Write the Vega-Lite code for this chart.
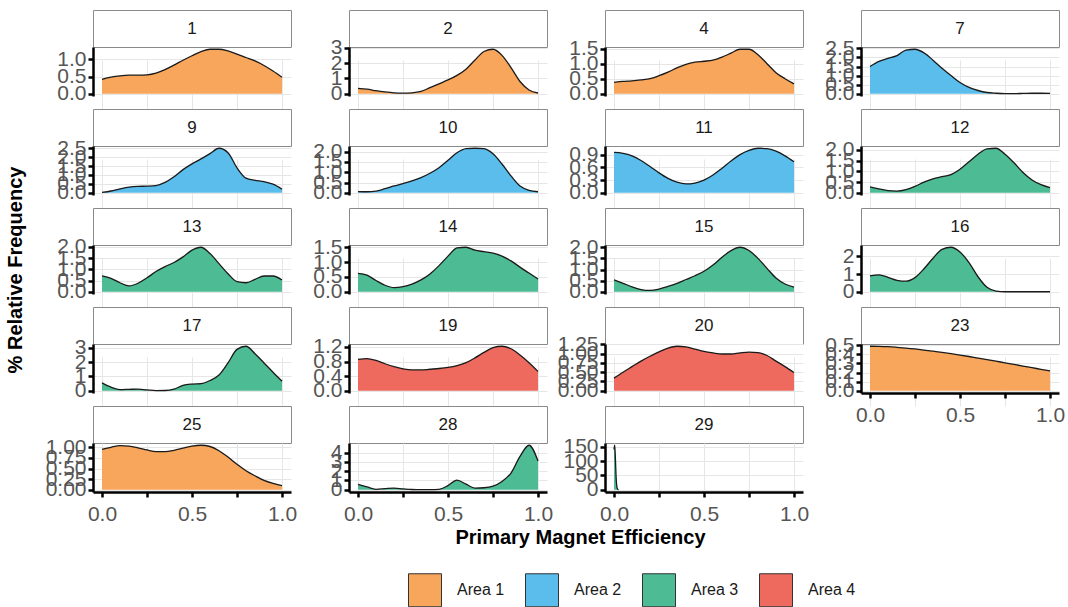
{
"$schema":"https://vega.github.io/schema/vega-lite/v6.json",
"padding":{"left":5,"top":9,"right":0,"bottom":0},
"background":"white",
"datasets":{
"panels":[{"panel":"1","area":"Area 1"},{"panel":"2","area":"Area 1"},{"panel":"4","area":"Area 1"},{"panel":"7","area":"Area 2"},{"panel":"9","area":"Area 2"},{"panel":"10","area":"Area 2"},{"panel":"11","area":"Area 2"},{"panel":"12","area":"Area 3"},{"panel":"13","area":"Area 3"},{"panel":"14","area":"Area 3"},{"panel":"15","area":"Area 3"},{"panel":"16","area":"Area 3"},{"panel":"17","area":"Area 3"},{"panel":"19","area":"Area 4"},{"panel":"20","area":"Area 4"},{"panel":"23","area":"Area 1"},{"panel":"25","area":"Area 1"},{"panel":"28","area":"Area 3"},{"panel":"29","area":"Area 3"}],
"dens":[
{"panel":"1","x":0,"y":0.42},{"panel":"1","x":0.05,"y":0.48},{"panel":"1","x":0.1,"y":0.52},{"panel":"1","x":0.15,"y":0.54},{"panel":"1","x":0.2,"y":0.54},{"panel":"1","x":0.25,"y":0.55},{"panel":"1","x":0.3,"y":0.6},{"panel":"1","x":0.35,"y":0.7},{"panel":"1","x":0.4,"y":0.83},{"panel":"1","x":0.45,"y":0.97},{"panel":"1","x":0.5,"y":1.1},{"panel":"1","x":0.55,"y":1.22},{"panel":"1","x":0.6,"y":1.29},{"panel":"1","x":0.65,"y":1.29},{"panel":"1","x":0.7,"y":1.24},{"panel":"1","x":0.75,"y":1.15},{"panel":"1","x":0.8,"y":1.05},{"panel":"1","x":0.85,"y":0.95},{"panel":"1","x":0.9,"y":0.82},{"panel":"1","x":0.95,"y":0.66},{"panel":"1","x":1,"y":0.48},
{"panel":"2","x":0,"y":0.35},{"panel":"2","x":0.05,"y":0.3},{"panel":"2","x":0.1,"y":0.2},{"panel":"2","x":0.15,"y":0.12},{"panel":"2","x":0.2,"y":0.06},{"panel":"2","x":0.25,"y":0.04},{"panel":"2","x":0.3,"y":0.06},{"panel":"2","x":0.35,"y":0.15},{"panel":"2","x":0.4,"y":0.4},{"panel":"2","x":0.45,"y":0.65},{"panel":"2","x":0.5,"y":0.9},{"panel":"2","x":0.55,"y":1.2},{"panel":"2","x":0.6,"y":1.6},{"panel":"2","x":0.65,"y":2.2},{"panel":"2","x":0.7,"y":2.75},{"panel":"2","x":0.75,"y":2.9},{"panel":"2","x":0.8,"y":2.5},{"panel":"2","x":0.85,"y":1.7},{"panel":"2","x":0.9,"y":0.8},{"panel":"2","x":0.95,"y":0.25},{"panel":"2","x":1,"y":0.05},
{"panel":"4","x":0,"y":0.38},{"panel":"4","x":0.05,"y":0.41},{"panel":"4","x":0.1,"y":0.43},{"panel":"4","x":0.15,"y":0.46},{"panel":"4","x":0.2,"y":0.5},{"panel":"4","x":0.25,"y":0.6},{"panel":"4","x":0.3,"y":0.72},{"panel":"4","x":0.35,"y":0.86},{"panel":"4","x":0.4,"y":0.98},{"panel":"4","x":0.45,"y":1.05},{"panel":"4","x":0.5,"y":1.08},{"panel":"4","x":0.55,"y":1.12},{"panel":"4","x":0.6,"y":1.22},{"panel":"4","x":0.65,"y":1.35},{"panel":"4","x":0.7,"y":1.48},{"panel":"4","x":0.75,"y":1.48},{"panel":"4","x":0.8,"y":1.3},{"panel":"4","x":0.85,"y":1.0},{"panel":"4","x":0.9,"y":0.7},{"panel":"4","x":0.95,"y":0.5},{"panel":"4","x":1,"y":0.33},
{"panel":"7","x":0,"y":1.5},{"panel":"7","x":0.05,"y":1.78},{"panel":"7","x":0.1,"y":1.95},{"panel":"7","x":0.15,"y":2.1},{"panel":"7","x":0.2,"y":2.4},{"panel":"7","x":0.25,"y":2.45},{"panel":"7","x":0.3,"y":2.25},{"panel":"7","x":0.35,"y":1.85},{"panel":"7","x":0.4,"y":1.4},{"panel":"7","x":0.45,"y":1.0},{"panel":"7","x":0.5,"y":0.62},{"panel":"7","x":0.55,"y":0.35},{"panel":"7","x":0.6,"y":0.18},{"panel":"7","x":0.65,"y":0.07},{"panel":"7","x":0.7,"y":0.03},{"panel":"7","x":0.75,"y":0.01},{"panel":"7","x":0.8,"y":0.01},{"panel":"7","x":0.85,"y":0.02},{"panel":"7","x":0.9,"y":0.03},{"panel":"7","x":0.95,"y":0.03},{"panel":"7","x":1,"y":0.02},
{"panel":"9","x":0,"y":0.02},{"panel":"9","x":0.05,"y":0.1},{"panel":"9","x":0.1,"y":0.22},{"panel":"9","x":0.15,"y":0.32},{"panel":"9","x":0.2,"y":0.36},{"panel":"9","x":0.25,"y":0.37},{"panel":"9","x":0.3,"y":0.4},{"panel":"9","x":0.35,"y":0.58},{"panel":"9","x":0.4,"y":0.9},{"panel":"9","x":0.45,"y":1.3},{"panel":"9","x":0.5,"y":1.62},{"panel":"9","x":0.55,"y":1.9},{"panel":"9","x":0.6,"y":2.2},{"panel":"9","x":0.65,"y":2.5},{"panel":"9","x":0.7,"y":2.25},{"panel":"9","x":0.75,"y":1.4},{"panel":"9","x":0.8,"y":0.82},{"panel":"9","x":0.85,"y":0.7},{"panel":"9","x":0.9,"y":0.62},{"panel":"9","x":0.95,"y":0.48},{"panel":"9","x":1,"y":0.2},
{"panel":"10","x":0,"y":0.06},{"panel":"10","x":0.05,"y":0.05},{"panel":"10","x":0.1,"y":0.08},{"panel":"10","x":0.15,"y":0.2},{"panel":"10","x":0.2,"y":0.33},{"panel":"10","x":0.25,"y":0.45},{"panel":"10","x":0.3,"y":0.58},{"panel":"10","x":0.35,"y":0.74},{"panel":"10","x":0.4,"y":0.95},{"panel":"10","x":0.45,"y":1.22},{"panel":"10","x":0.5,"y":1.58},{"panel":"10","x":0.55,"y":1.95},{"panel":"10","x":0.6,"y":2.15},{"panel":"10","x":0.65,"y":2.17},{"panel":"10","x":0.7,"y":2.15},{"panel":"10","x":0.75,"y":1.9},{"panel":"10","x":0.8,"y":1.4},{"panel":"10","x":0.85,"y":0.82},{"panel":"10","x":0.9,"y":0.33},{"panel":"10","x":0.95,"y":0.12},{"panel":"10","x":1,"y":0.05},
{"panel":"11","x":0,"y":0.95},{"panel":"11","x":0.05,"y":0.93},{"panel":"11","x":0.1,"y":0.87},{"panel":"11","x":0.15,"y":0.76},{"panel":"11","x":0.2,"y":0.62},{"panel":"11","x":0.25,"y":0.47},{"panel":"11","x":0.3,"y":0.34},{"panel":"11","x":0.35,"y":0.25},{"panel":"11","x":0.4,"y":0.21},{"panel":"11","x":0.45,"y":0.23},{"panel":"11","x":0.5,"y":0.3},{"panel":"11","x":0.55,"y":0.42},{"panel":"11","x":0.6,"y":0.58},{"panel":"11","x":0.65,"y":0.75},{"panel":"11","x":0.7,"y":0.9},{"panel":"11","x":0.75,"y":1.0},{"panel":"11","x":0.8,"y":1.05},{"panel":"11","x":0.85,"y":1.04},{"panel":"11","x":0.9,"y":0.98},{"panel":"11","x":0.95,"y":0.87},{"panel":"11","x":1,"y":0.73},
{"panel":"12","x":0,"y":0.27},{"panel":"12","x":0.05,"y":0.18},{"panel":"12","x":0.1,"y":0.1},{"panel":"12","x":0.15,"y":0.08},{"panel":"12","x":0.2,"y":0.15},{"panel":"12","x":0.25,"y":0.3},{"panel":"12","x":0.3,"y":0.5},{"panel":"12","x":0.35,"y":0.65},{"panel":"12","x":0.4,"y":0.75},{"panel":"12","x":0.45,"y":0.85},{"panel":"12","x":0.5,"y":1.1},{"panel":"12","x":0.55,"y":1.45},{"panel":"12","x":0.6,"y":1.8},{"panel":"12","x":0.65,"y":2.05},{"panel":"12","x":0.7,"y":2.08},{"panel":"12","x":0.75,"y":1.8},{"panel":"12","x":0.8,"y":1.4},{"panel":"12","x":0.85,"y":0.95},{"panel":"12","x":0.9,"y":0.6},{"panel":"12","x":0.95,"y":0.38},{"panel":"12","x":1,"y":0.24},
{"panel":"13","x":0,"y":0.71},{"panel":"13","x":0.05,"y":0.6},{"panel":"13","x":0.1,"y":0.4},{"panel":"13","x":0.15,"y":0.26},{"panel":"13","x":0.2,"y":0.38},{"panel":"13","x":0.25,"y":0.62},{"panel":"13","x":0.3,"y":0.9},{"panel":"13","x":0.35,"y":1.12},{"panel":"13","x":0.4,"y":1.3},{"panel":"13","x":0.45,"y":1.55},{"panel":"13","x":0.5,"y":1.85},{"panel":"13","x":0.55,"y":1.98},{"panel":"13","x":0.6,"y":1.7},{"panel":"13","x":0.65,"y":1.25},{"panel":"13","x":0.7,"y":0.8},{"panel":"13","x":0.75,"y":0.45},{"panel":"13","x":0.8,"y":0.4},{"panel":"13","x":0.85,"y":0.55},{"panel":"13","x":0.9,"y":0.7},{"panel":"13","x":0.95,"y":0.7},{"panel":"13","x":1,"y":0.52},
{"panel":"14","x":0,"y":0.62},{"panel":"14","x":0.05,"y":0.56},{"panel":"14","x":0.1,"y":0.38},{"panel":"14","x":0.15,"y":0.22},{"panel":"14","x":0.2,"y":0.14},{"panel":"14","x":0.25,"y":0.17},{"panel":"14","x":0.3,"y":0.26},{"panel":"14","x":0.35,"y":0.4},{"panel":"14","x":0.4,"y":0.6},{"panel":"14","x":0.45,"y":0.88},{"panel":"14","x":0.5,"y":1.2},{"panel":"14","x":0.55,"y":1.48},{"panel":"14","x":0.6,"y":1.5},{"panel":"14","x":0.65,"y":1.4},{"panel":"14","x":0.7,"y":1.35},{"panel":"14","x":0.75,"y":1.3},{"panel":"14","x":0.8,"y":1.2},{"panel":"14","x":0.85,"y":1.04},{"panel":"14","x":0.9,"y":0.83},{"panel":"14","x":0.95,"y":0.63},{"panel":"14","x":1,"y":0.43},
{"panel":"15","x":0,"y":0.53},{"panel":"15","x":0.05,"y":0.38},{"panel":"15","x":0.1,"y":0.22},{"panel":"15","x":0.15,"y":0.1},{"panel":"15","x":0.2,"y":0.06},{"panel":"15","x":0.25,"y":0.12},{"panel":"15","x":0.3,"y":0.24},{"panel":"15","x":0.35,"y":0.38},{"panel":"15","x":0.4,"y":0.55},{"panel":"15","x":0.45,"y":0.72},{"panel":"15","x":0.5,"y":0.92},{"panel":"15","x":0.55,"y":1.2},{"panel":"15","x":0.6,"y":1.55},{"panel":"15","x":0.65,"y":1.85},{"panel":"15","x":0.7,"y":2.0},{"panel":"15","x":0.75,"y":1.85},{"panel":"15","x":0.8,"y":1.5},{"panel":"15","x":0.85,"y":1.05},{"panel":"15","x":0.9,"y":0.62},{"panel":"15","x":0.95,"y":0.35},{"panel":"15","x":1,"y":0.21},
{"panel":"16","x":0,"y":0.9},{"panel":"16","x":0.05,"y":0.96},{"panel":"16","x":0.1,"y":0.82},{"panel":"16","x":0.15,"y":0.65},{"panel":"16","x":0.2,"y":0.6},{"panel":"16","x":0.25,"y":0.8},{"panel":"16","x":0.3,"y":1.3},{"panel":"16","x":0.35,"y":1.9},{"panel":"16","x":0.4,"y":2.4},{"panel":"16","x":0.45,"y":2.52},{"panel":"16","x":0.5,"y":2.25},{"panel":"16","x":0.55,"y":1.65},{"panel":"16","x":0.6,"y":0.85},{"panel":"16","x":0.65,"y":0.25},{"panel":"16","x":0.7,"y":0.04},{"panel":"16","x":0.75,"y":0},{"panel":"16","x":0.8,"y":0},{"panel":"16","x":0.85,"y":0},{"panel":"16","x":0.9,"y":0},{"panel":"16","x":0.95,"y":0},{"panel":"16","x":1,"y":0},
{"panel":"17","x":0,"y":0.55},{"panel":"17","x":0.05,"y":0.25},{"panel":"17","x":0.1,"y":0.08},{"panel":"17","x":0.15,"y":0.1},{"panel":"17","x":0.2,"y":0.12},{"panel":"17","x":0.25,"y":0.06},{"panel":"17","x":0.3,"y":0.01},{"panel":"17","x":0.35,"y":0.02},{"panel":"17","x":0.4,"y":0.12},{"panel":"17","x":0.45,"y":0.38},{"panel":"17","x":0.5,"y":0.47},{"panel":"17","x":0.55,"y":0.5},{"panel":"17","x":0.6,"y":0.72},{"panel":"17","x":0.65,"y":1.1},{"panel":"17","x":0.7,"y":1.95},{"panel":"17","x":0.75,"y":2.9},{"panel":"17","x":0.8,"y":3.12},{"panel":"17","x":0.85,"y":2.6},{"panel":"17","x":0.9,"y":1.95},{"panel":"17","x":0.95,"y":1.3},{"panel":"17","x":1,"y":0.67},
{"panel":"19","x":0,"y":0.86},{"panel":"19","x":0.05,"y":0.88},{"panel":"19","x":0.1,"y":0.83},{"panel":"19","x":0.15,"y":0.74},{"panel":"19","x":0.2,"y":0.66},{"panel":"19","x":0.25,"y":0.6},{"panel":"19","x":0.3,"y":0.57},{"panel":"19","x":0.35,"y":0.57},{"panel":"19","x":0.4,"y":0.59},{"panel":"19","x":0.45,"y":0.61},{"panel":"19","x":0.5,"y":0.64},{"panel":"19","x":0.55,"y":0.69},{"panel":"19","x":0.6,"y":0.77},{"panel":"19","x":0.65,"y":0.9},{"panel":"19","x":0.7,"y":1.05},{"panel":"19","x":0.75,"y":1.18},{"panel":"19","x":0.8,"y":1.22},{"panel":"19","x":0.85,"y":1.15},{"panel":"19","x":0.9,"y":0.98},{"panel":"19","x":0.95,"y":0.77},{"panel":"19","x":1,"y":0.53},
{"panel":"20","x":0,"y":0.34},{"panel":"20","x":0.05,"y":0.5},{"panel":"20","x":0.1,"y":0.65},{"panel":"20","x":0.15,"y":0.8},{"panel":"20","x":0.2,"y":0.93},{"panel":"20","x":0.25,"y":1.05},{"panel":"20","x":0.3,"y":1.15},{"panel":"20","x":0.35,"y":1.2},{"panel":"20","x":0.4,"y":1.18},{"panel":"20","x":0.45,"y":1.12},{"panel":"20","x":0.5,"y":1.06},{"panel":"20","x":0.55,"y":1.02},{"panel":"20","x":0.6,"y":0.99},{"panel":"20","x":0.65,"y":0.99},{"panel":"20","x":0.7,"y":1.02},{"panel":"20","x":0.75,"y":1.04},{"panel":"20","x":0.8,"y":1.03},{"panel":"20","x":0.85,"y":0.95},{"panel":"20","x":0.9,"y":0.8},{"panel":"20","x":0.95,"y":0.65},{"panel":"20","x":1,"y":0.49},
{"panel":"23","x":0,"y":0.49},{"panel":"23","x":0.05,"y":0.489},{"panel":"23","x":0.1,"y":0.485},{"panel":"23","x":0.15,"y":0.478},{"panel":"23","x":0.2,"y":0.47},{"panel":"23","x":0.25,"y":0.46},{"panel":"23","x":0.3,"y":0.448},{"panel":"23","x":0.35,"y":0.435},{"panel":"23","x":0.4,"y":0.422},{"panel":"23","x":0.45,"y":0.408},{"panel":"23","x":0.5,"y":0.393},{"panel":"23","x":0.55,"y":0.377},{"panel":"23","x":0.6,"y":0.36},{"panel":"23","x":0.65,"y":0.343},{"panel":"23","x":0.7,"y":0.325},{"panel":"23","x":0.75,"y":0.308},{"panel":"23","x":0.8,"y":0.29},{"panel":"23","x":0.85,"y":0.272},{"panel":"23","x":0.9,"y":0.254},{"panel":"23","x":0.95,"y":0.236},{"panel":"23","x":1,"y":0.218},
{"panel":"25","x":0,"y":0.95},{"panel":"25","x":0.05,"y":1.0},{"panel":"25","x":0.1,"y":1.04},{"panel":"25","x":0.15,"y":1.03},{"panel":"25","x":0.2,"y":0.99},{"panel":"25","x":0.25,"y":0.94},{"panel":"25","x":0.3,"y":0.9},{"panel":"25","x":0.35,"y":0.9},{"panel":"25","x":0.4,"y":0.93},{"panel":"25","x":0.45,"y":0.98},{"panel":"25","x":0.5,"y":1.03},{"panel":"25","x":0.55,"y":1.05},{"panel":"25","x":0.6,"y":1.02},{"panel":"25","x":0.65,"y":0.92},{"panel":"25","x":0.7,"y":0.77},{"panel":"25","x":0.75,"y":0.6},{"panel":"25","x":0.8,"y":0.45},{"panel":"25","x":0.85,"y":0.33},{"panel":"25","x":0.9,"y":0.22},{"panel":"25","x":0.95,"y":0.15},{"panel":"25","x":1,"y":0.1},
{"panel":"28","x":0,"y":0.57},{"panel":"28","x":0.05,"y":0.3},{"panel":"28","x":0.1,"y":0.05},{"panel":"28","x":0.15,"y":0.12},{"panel":"28","x":0.2,"y":0.18},{"panel":"28","x":0.25,"y":0.1},{"panel":"28","x":0.3,"y":0.03},{"panel":"28","x":0.35,"y":0.01},{"panel":"28","x":0.4,"y":0.01},{"panel":"28","x":0.45,"y":0.05},{"panel":"28","x":0.5,"y":0.45},{"panel":"28","x":0.55,"y":1.05},{"panel":"28","x":0.6,"y":0.6},{"panel":"28","x":0.65,"y":0.18},{"panel":"28","x":0.7,"y":0.22},{"panel":"28","x":0.75,"y":0.4},{"panel":"28","x":0.8,"y":0.9},{"panel":"28","x":0.85,"y":1.8},{"panel":"28","x":0.9,"y":3.6},{"panel":"28","x":0.95,"y":4.8},{"panel":"28","x":1,"y":3.1},
{"panel":"29","x":0,"y":140},{"panel":"29","x":0.004,"y":155},{"panel":"29","x":0.008,"y":105},{"panel":"29","x":0.012,"y":40},{"panel":"29","x":0.016,"y":10},{"panel":"29","x":0.02,"y":2},{"panel":"29","x":0.025,"y":0}
]},
"columns":4,
"spacing":{"row":0,"column":58},
"align":"each",
"bounds":"flush",
"concat":[
{"width":198,"height":37,"view":{"stroke":"#8a8a8a"},"data":{"name":"panels"},"transform":[{"filter":"datum.panel==='1'"}],"mark":{"type":"text","fontSize":17,"color":"#1a1a1a","baseline":"middle"},"encoding":{"text":{"field":"panel"}}},
{"width":198,"height":37,"view":{"stroke":"#8a8a8a"},"data":{"name":"panels"},"transform":[{"filter":"datum.panel==='2'"}],"mark":{"type":"text","fontSize":17,"color":"#1a1a1a","baseline":"middle"},"encoding":{"text":{"field":"panel"}}},
{"width":198,"height":37,"view":{"stroke":"#8a8a8a"},"data":{"name":"panels"},"transform":[{"filter":"datum.panel==='4'"}],"mark":{"type":"text","fontSize":17,"color":"#1a1a1a","baseline":"middle"},"encoding":{"text":{"field":"panel"}}},
{"width":198,"height":37,"view":{"stroke":"#8a8a8a"},"data":{"name":"panels"},"transform":[{"filter":"datum.panel==='7'"}],"mark":{"type":"text","fontSize":17,"color":"#1a1a1a","baseline":"middle"},"encoding":{"text":{"field":"panel"}}},
{"width":198,"height":62,"data":{"name":"dens"},"transform":[{"filter":"datum.panel==='1'"},{"lookup":"panel","from":{"data":{"name":"panels"},"key":"panel","fields":["area"]}}],"encoding":{"x":{"field":"x","type":"quantitative","title":null,"scale":{"domain":[-0.05,1.05],"nice":false,"zero":false},"axis":{"values":[0,0.25,0.5,0.75,1]}},"y":{"field":"y","type":"quantitative","title":null,"scale":{"domain":[-0.0645,1.3545],"range":[49,0],"nice":false,"zero":false},"axis":{"values":[0,0.5,1],"format":".1f"}}},"layer":[{"mark":{"type":"area","interpolate":"monotone"},"encoding":{"color":{"field":"area","type":"nominal","title":null}}},{"mark":{"type":"line","interpolate":"monotone","color":"#1a1a1a","strokeWidth":1.3}}]},
{"width":198,"height":62,"data":{"name":"dens"},"transform":[{"filter":"datum.panel==='2'"},{"lookup":"panel","from":{"data":{"name":"panels"},"key":"panel","fields":["area"]}}],"encoding":{"x":{"field":"x","type":"quantitative","title":null,"scale":{"domain":[-0.05,1.05],"nice":false,"zero":false},"axis":{"values":[0,0.25,0.5,0.75,1]}},"y":{"field":"y","type":"quantitative","title":null,"scale":{"domain":[-0.145,3.045],"range":[49,0],"nice":false,"zero":false},"axis":{"values":[0,1,2,3],"format":"d"}}},"layer":[{"mark":{"type":"area","interpolate":"monotone"},"encoding":{"color":{"field":"area","type":"nominal","title":null}}},{"mark":{"type":"line","interpolate":"monotone","color":"#1a1a1a","strokeWidth":1.3}}]},
{"width":198,"height":62,"data":{"name":"dens"},"transform":[{"filter":"datum.panel==='4'"},{"lookup":"panel","from":{"data":{"name":"panels"},"key":"panel","fields":["area"]}}],"encoding":{"x":{"field":"x","type":"quantitative","title":null,"scale":{"domain":[-0.05,1.05],"nice":false,"zero":false},"axis":{"values":[0,0.25,0.5,0.75,1]}},"y":{"field":"y","type":"quantitative","title":null,"scale":{"domain":[-0.074,1.554],"range":[49,0],"nice":false,"zero":false},"axis":{"values":[0,0.5,1,1.5],"format":".1f"}}},"layer":[{"mark":{"type":"area","interpolate":"monotone"},"encoding":{"color":{"field":"area","type":"nominal","title":null}}},{"mark":{"type":"line","interpolate":"monotone","color":"#1a1a1a","strokeWidth":1.3}}]},
{"width":198,"height":62,"data":{"name":"dens"},"transform":[{"filter":"datum.panel==='7'"},{"lookup":"panel","from":{"data":{"name":"panels"},"key":"panel","fields":["area"]}}],"encoding":{"x":{"field":"x","type":"quantitative","title":null,"scale":{"domain":[-0.05,1.05],"nice":false,"zero":false},"axis":{"values":[0,0.25,0.5,0.75,1]}},"y":{"field":"y","type":"quantitative","title":null,"scale":{"domain":[-0.1225,2.5725],"range":[49,0],"nice":false,"zero":false},"axis":{"values":[0,0.5,1,1.5,2,2.5],"format":".1f"}}},"layer":[{"mark":{"type":"area","interpolate":"monotone"},"encoding":{"color":{"field":"area","type":"nominal","title":null}}},{"mark":{"type":"line","interpolate":"monotone","color":"#1a1a1a","strokeWidth":1.3}}]},
{"width":198,"height":37,"view":{"stroke":"#8a8a8a"},"data":{"name":"panels"},"transform":[{"filter":"datum.panel==='9'"}],"mark":{"type":"text","fontSize":17,"color":"#1a1a1a","baseline":"middle"},"encoding":{"text":{"field":"panel"}}},
{"width":198,"height":37,"view":{"stroke":"#8a8a8a"},"data":{"name":"panels"},"transform":[{"filter":"datum.panel==='10'"}],"mark":{"type":"text","fontSize":17,"color":"#1a1a1a","baseline":"middle"},"encoding":{"text":{"field":"panel"}}},
{"width":198,"height":37,"view":{"stroke":"#8a8a8a"},"data":{"name":"panels"},"transform":[{"filter":"datum.panel==='11'"}],"mark":{"type":"text","fontSize":17,"color":"#1a1a1a","baseline":"middle"},"encoding":{"text":{"field":"panel"}}},
{"width":198,"height":37,"view":{"stroke":"#8a8a8a"},"data":{"name":"panels"},"transform":[{"filter":"datum.panel==='12'"}],"mark":{"type":"text","fontSize":17,"color":"#1a1a1a","baseline":"middle"},"encoding":{"text":{"field":"panel"}}},
{"width":198,"height":62,"data":{"name":"dens"},"transform":[{"filter":"datum.panel==='9'"},{"lookup":"panel","from":{"data":{"name":"panels"},"key":"panel","fields":["area"]}}],"encoding":{"x":{"field":"x","type":"quantitative","title":null,"scale":{"domain":[-0.05,1.05],"nice":false,"zero":false},"axis":{"values":[0,0.25,0.5,0.75,1]}},"y":{"field":"y","type":"quantitative","title":null,"scale":{"domain":[-0.125,2.625],"range":[49,0],"nice":false,"zero":false},"axis":{"values":[0,0.5,1,1.5,2,2.5],"format":".1f"}}},"layer":[{"mark":{"type":"area","interpolate":"monotone"},"encoding":{"color":{"field":"area","type":"nominal","title":null}}},{"mark":{"type":"line","interpolate":"monotone","color":"#1a1a1a","strokeWidth":1.3}}]},
{"width":198,"height":62,"data":{"name":"dens"},"transform":[{"filter":"datum.panel==='10'"},{"lookup":"panel","from":{"data":{"name":"panels"},"key":"panel","fields":["area"]}}],"encoding":{"x":{"field":"x","type":"quantitative","title":null,"scale":{"domain":[-0.05,1.05],"nice":false,"zero":false},"axis":{"values":[0,0.25,0.5,0.75,1]}},"y":{"field":"y","type":"quantitative","title":null,"scale":{"domain":[-0.1085,2.2785],"range":[49,0],"nice":false,"zero":false},"axis":{"values":[0,0.5,1,1.5,2],"format":".1f"}}},"layer":[{"mark":{"type":"area","interpolate":"monotone"},"encoding":{"color":{"field":"area","type":"nominal","title":null}}},{"mark":{"type":"line","interpolate":"monotone","color":"#1a1a1a","strokeWidth":1.3}}]},
{"width":198,"height":62,"data":{"name":"dens"},"transform":[{"filter":"datum.panel==='11'"},{"lookup":"panel","from":{"data":{"name":"panels"},"key":"panel","fields":["area"]}}],"encoding":{"x":{"field":"x","type":"quantitative","title":null,"scale":{"domain":[-0.05,1.05],"nice":false,"zero":false},"axis":{"values":[0,0.25,0.5,0.75,1]}},"y":{"field":"y","type":"quantitative","title":null,"scale":{"domain":[-0.0525,1.1025],"range":[49,0],"nice":false,"zero":false},"axis":{"values":[0,0.3,0.6,0.9],"format":".1f"}}},"layer":[{"mark":{"type":"area","interpolate":"monotone"},"encoding":{"color":{"field":"area","type":"nominal","title":null}}},{"mark":{"type":"line","interpolate":"monotone","color":"#1a1a1a","strokeWidth":1.3}}]},
{"width":198,"height":62,"data":{"name":"dens"},"transform":[{"filter":"datum.panel==='12'"},{"lookup":"panel","from":{"data":{"name":"panels"},"key":"panel","fields":["area"]}}],"encoding":{"x":{"field":"x","type":"quantitative","title":null,"scale":{"domain":[-0.05,1.05],"nice":false,"zero":false},"axis":{"values":[0,0.25,0.5,0.75,1]}},"y":{"field":"y","type":"quantitative","title":null,"scale":{"domain":[-0.104,2.184],"range":[49,0],"nice":false,"zero":false},"axis":{"values":[0,0.5,1,1.5,2],"format":".1f"}}},"layer":[{"mark":{"type":"area","interpolate":"monotone"},"encoding":{"color":{"field":"area","type":"nominal","title":null}}},{"mark":{"type":"line","interpolate":"monotone","color":"#1a1a1a","strokeWidth":1.3}}]},
{"width":198,"height":37,"view":{"stroke":"#8a8a8a"},"data":{"name":"panels"},"transform":[{"filter":"datum.panel==='13'"}],"mark":{"type":"text","fontSize":17,"color":"#1a1a1a","baseline":"middle"},"encoding":{"text":{"field":"panel"}}},
{"width":198,"height":37,"view":{"stroke":"#8a8a8a"},"data":{"name":"panels"},"transform":[{"filter":"datum.panel==='14'"}],"mark":{"type":"text","fontSize":17,"color":"#1a1a1a","baseline":"middle"},"encoding":{"text":{"field":"panel"}}},
{"width":198,"height":37,"view":{"stroke":"#8a8a8a"},"data":{"name":"panels"},"transform":[{"filter":"datum.panel==='15'"}],"mark":{"type":"text","fontSize":17,"color":"#1a1a1a","baseline":"middle"},"encoding":{"text":{"field":"panel"}}},
{"width":198,"height":37,"view":{"stroke":"#8a8a8a"},"data":{"name":"panels"},"transform":[{"filter":"datum.panel==='16'"}],"mark":{"type":"text","fontSize":17,"color":"#1a1a1a","baseline":"middle"},"encoding":{"text":{"field":"panel"}}},
{"width":198,"height":62,"data":{"name":"dens"},"transform":[{"filter":"datum.panel==='13'"},{"lookup":"panel","from":{"data":{"name":"panels"},"key":"panel","fields":["area"]}}],"encoding":{"x":{"field":"x","type":"quantitative","title":null,"scale":{"domain":[-0.05,1.05],"nice":false,"zero":false},"axis":{"values":[0,0.25,0.5,0.75,1]}},"y":{"field":"y","type":"quantitative","scale":{"domain":[-0.099,2.079],"range":[49,0],"nice":false,"zero":false},"axis":{"values":[0,0.5,1,1.5,2],"format":".1f","title":"% Relative Frequency","titlePadding":31}}},"layer":[{"mark":{"type":"area","interpolate":"monotone"},"encoding":{"color":{"field":"area","type":"nominal","title":null}}},{"mark":{"type":"line","interpolate":"monotone","color":"#1a1a1a","strokeWidth":1.3}}]},
{"width":198,"height":62,"data":{"name":"dens"},"transform":[{"filter":"datum.panel==='14'"},{"lookup":"panel","from":{"data":{"name":"panels"},"key":"panel","fields":["area"]}}],"encoding":{"x":{"field":"x","type":"quantitative","title":null,"scale":{"domain":[-0.05,1.05],"nice":false,"zero":false},"axis":{"values":[0,0.25,0.5,0.75,1]}},"y":{"field":"y","type":"quantitative","title":null,"scale":{"domain":[-0.075,1.575],"range":[49,0],"nice":false,"zero":false},"axis":{"values":[0,0.5,1,1.5],"format":".1f"}}},"layer":[{"mark":{"type":"area","interpolate":"monotone"},"encoding":{"color":{"field":"area","type":"nominal","title":null}}},{"mark":{"type":"line","interpolate":"monotone","color":"#1a1a1a","strokeWidth":1.3}}]},
{"width":198,"height":62,"data":{"name":"dens"},"transform":[{"filter":"datum.panel==='15'"},{"lookup":"panel","from":{"data":{"name":"panels"},"key":"panel","fields":["area"]}}],"encoding":{"x":{"field":"x","type":"quantitative","title":null,"scale":{"domain":[-0.05,1.05],"nice":false,"zero":false},"axis":{"values":[0,0.25,0.5,0.75,1]}},"y":{"field":"y","type":"quantitative","title":null,"scale":{"domain":[-0.1,2.1],"range":[49,0],"nice":false,"zero":false},"axis":{"values":[0,0.5,1,1.5,2],"format":".1f"}}},"layer":[{"mark":{"type":"area","interpolate":"monotone"},"encoding":{"color":{"field":"area","type":"nominal","title":null}}},{"mark":{"type":"line","interpolate":"monotone","color":"#1a1a1a","strokeWidth":1.3}}]},
{"width":198,"height":62,"data":{"name":"dens"},"transform":[{"filter":"datum.panel==='16'"},{"lookup":"panel","from":{"data":{"name":"panels"},"key":"panel","fields":["area"]}}],"encoding":{"x":{"field":"x","type":"quantitative","title":null,"scale":{"domain":[-0.05,1.05],"nice":false,"zero":false},"axis":{"values":[0,0.25,0.5,0.75,1]}},"y":{"field":"y","type":"quantitative","title":null,"scale":{"domain":[-0.126,2.646],"range":[49,0],"nice":false,"zero":false},"axis":{"values":[0,1,2],"format":"d"}}},"layer":[{"mark":{"type":"area","interpolate":"monotone"},"encoding":{"color":{"field":"area","type":"nominal","title":null}}},{"mark":{"type":"line","interpolate":"monotone","color":"#1a1a1a","strokeWidth":1.3}}]},
{"width":198,"height":37,"view":{"stroke":"#8a8a8a"},"data":{"name":"panels"},"transform":[{"filter":"datum.panel==='17'"}],"mark":{"type":"text","fontSize":17,"color":"#1a1a1a","baseline":"middle"},"encoding":{"text":{"field":"panel"}}},
{"width":198,"height":37,"view":{"stroke":"#8a8a8a"},"data":{"name":"panels"},"transform":[{"filter":"datum.panel==='19'"}],"mark":{"type":"text","fontSize":17,"color":"#1a1a1a","baseline":"middle"},"encoding":{"text":{"field":"panel"}}},
{"width":198,"height":37,"view":{"stroke":"#8a8a8a"},"data":{"name":"panels"},"transform":[{"filter":"datum.panel==='20'"}],"mark":{"type":"text","fontSize":17,"color":"#1a1a1a","baseline":"middle"},"encoding":{"text":{"field":"panel"}}},
{"width":198,"height":37,"view":{"stroke":"#8a8a8a"},"data":{"name":"panels"},"transform":[{"filter":"datum.panel==='23'"}],"mark":{"type":"text","fontSize":17,"color":"#1a1a1a","baseline":"middle"},"encoding":{"text":{"field":"panel"}}},
{"width":198,"height":62,"data":{"name":"dens"},"transform":[{"filter":"datum.panel==='17'"},{"lookup":"panel","from":{"data":{"name":"panels"},"key":"panel","fields":["area"]}}],"encoding":{"x":{"field":"x","type":"quantitative","title":null,"scale":{"domain":[-0.05,1.05],"nice":false,"zero":false},"axis":{"values":[0,0.25,0.5,0.75,1]}},"y":{"field":"y","type":"quantitative","title":null,"scale":{"domain":[-0.156,3.276],"range":[49,0],"nice":false,"zero":false},"axis":{"values":[0,1,2,3],"format":"d"}}},"layer":[{"mark":{"type":"area","interpolate":"monotone"},"encoding":{"color":{"field":"area","type":"nominal","title":null}}},{"mark":{"type":"line","interpolate":"monotone","color":"#1a1a1a","strokeWidth":1.3}}]},
{"width":198,"height":62,"data":{"name":"dens"},"transform":[{"filter":"datum.panel==='19'"},{"lookup":"panel","from":{"data":{"name":"panels"},"key":"panel","fields":["area"]}}],"encoding":{"x":{"field":"x","type":"quantitative","title":null,"scale":{"domain":[-0.05,1.05],"nice":false,"zero":false},"axis":{"values":[0,0.25,0.5,0.75,1]}},"y":{"field":"y","type":"quantitative","title":null,"scale":{"domain":[-0.061,1.281],"range":[49,0],"nice":false,"zero":false},"axis":{"values":[0,0.4,0.8,1.2],"format":".1f"}}},"layer":[{"mark":{"type":"area","interpolate":"monotone"},"encoding":{"color":{"field":"area","type":"nominal","title":null}}},{"mark":{"type":"line","interpolate":"monotone","color":"#1a1a1a","strokeWidth":1.3}}]},
{"width":198,"height":62,"data":{"name":"dens"},"transform":[{"filter":"datum.panel==='20'"},{"lookup":"panel","from":{"data":{"name":"panels"},"key":"panel","fields":["area"]}}],"encoding":{"x":{"field":"x","type":"quantitative","title":null,"scale":{"domain":[-0.05,1.05],"nice":false,"zero":false},"axis":{"values":[0,0.25,0.5,0.75,1]}},"y":{"field":"y","type":"quantitative","title":null,"scale":{"domain":[-0.06,1.26],"range":[49,0],"nice":false,"zero":false},"axis":{"values":[0,0.25,0.5,0.75,1,1.25],"format":".2f"}}},"layer":[{"mark":{"type":"area","interpolate":"monotone"},"encoding":{"color":{"field":"area","type":"nominal","title":null}}},{"mark":{"type":"line","interpolate":"monotone","color":"#1a1a1a","strokeWidth":1.3}}]},
{"width":198,"height":62,"data":{"name":"dens"},"transform":[{"filter":"datum.panel==='23'"},{"lookup":"panel","from":{"data":{"name":"panels"},"key":"panel","fields":["area"]}}],"encoding":{"x":{"field":"x","type":"quantitative","title":null,"scale":{"domain":[-0.05,1.05],"nice":false,"zero":false},"axis":{"values":[0,0.25,0.5,0.75,1],"labels":true,"ticks":true,"domain":true,"offset":-13,"labelExpr":"datum.value == 0.25 || datum.value == 0.75 ? '' : format(datum.value, '.1f')"}},"y":{"field":"y","type":"quantitative","title":null,"scale":{"domain":[-0.0245,0.5145],"range":[49,0],"nice":false,"zero":false},"axis":{"values":[0,0.1,0.2,0.3,0.4,0.5],"format":".1f"}}},"layer":[{"mark":{"type":"area","interpolate":"monotone"},"encoding":{"color":{"field":"area","type":"nominal","title":null}}},{"mark":{"type":"line","interpolate":"monotone","color":"#1a1a1a","strokeWidth":1.3}}]},
{"width":198,"height":37,"view":{"stroke":"#8a8a8a"},"data":{"name":"panels"},"transform":[{"filter":"datum.panel==='25'"}],"mark":{"type":"text","fontSize":17,"color":"#1a1a1a","baseline":"middle"},"encoding":{"text":{"field":"panel"}}},
{"width":198,"height":37,"view":{"stroke":"#8a8a8a"},"data":{"name":"panels"},"transform":[{"filter":"datum.panel==='28'"}],"mark":{"type":"text","fontSize":17,"color":"#1a1a1a","baseline":"middle"},"encoding":{"text":{"field":"panel"}}},
{"width":198,"height":37,"view":{"stroke":"#8a8a8a"},"data":{"name":"panels"},"transform":[{"filter":"datum.panel==='29'"}],"mark":{"type":"text","fontSize":17,"color":"#1a1a1a","baseline":"middle"},"encoding":{"text":{"field":"panel"}}},
{"width":198,"height":37,"data":{"name":"panels"},"transform":[{"filter":"false"}],"mark":{"type":"text"},"encoding":{"text":{"field":"panel"}}},
{"width":198,"height":49,"data":{"name":"dens"},"transform":[{"filter":"datum.panel==='25'"},{"lookup":"panel","from":{"data":{"name":"panels"},"key":"panel","fields":["area"]}}],"encoding":{"x":{"field":"x","type":"quantitative","title":null,"scale":{"domain":[-0.05,1.05],"nice":false,"zero":false},"axis":{"values":[0,0.25,0.5,0.75,1],"labels":true,"ticks":true,"domain":true,"labelExpr":"datum.value == 0.25 || datum.value == 0.75 ? '' : format(datum.value, '.1f')"}},"y":{"field":"y","type":"quantitative","title":null,"scale":{"domain":[-0.0525,1.1025],"range":[49,0],"nice":false,"zero":false},"axis":{"values":[0,0.25,0.5,0.75,1],"format":".2f"}}},"layer":[{"mark":{"type":"area","interpolate":"monotone"},"encoding":{"color":{"field":"area","type":"nominal","title":null}}},{"mark":{"type":"line","interpolate":"monotone","color":"#1a1a1a","strokeWidth":1.3}}]},
{"width":198,"height":49,"data":{"name":"dens"},"transform":[{"filter":"datum.panel==='28'"},{"lookup":"panel","from":{"data":{"name":"panels"},"key":"panel","fields":["area"]}}],"encoding":{"x":{"field":"x","type":"quantitative","scale":{"domain":[-0.05,1.05],"nice":false,"zero":false},"axis":{"values":[0,0.25,0.5,0.75,1],"labels":true,"ticks":true,"domain":true,"labelExpr":"datum.value == 0.25 || datum.value == 0.75 ? '' : format(datum.value, '.1f')","title":"Primary Magnet Efficiency","titleX":231,"titlePadding":3}},"y":{"field":"y","type":"quantitative","title":null,"scale":{"domain":[-0.24,5.04],"range":[49,0],"nice":false,"zero":false},"axis":{"values":[0,1,2,3,4],"format":"d"}}},"layer":[{"mark":{"type":"area","interpolate":"monotone"},"encoding":{"color":{"field":"area","type":"nominal","title":null}}},{"mark":{"type":"line","interpolate":"monotone","color":"#1a1a1a","strokeWidth":1.3}}]},
{"width":198,"height":49,"data":{"name":"dens"},"transform":[{"filter":"datum.panel==='29'"},{"lookup":"panel","from":{"data":{"name":"panels"},"key":"panel","fields":["area"]}}],"encoding":{"x":{"field":"x","type":"quantitative","title":null,"scale":{"domain":[-0.05,1.05],"nice":false,"zero":false},"axis":{"values":[0,0.25,0.5,0.75,1],"labels":true,"ticks":true,"domain":true,"labelExpr":"datum.value == 0.25 || datum.value == 0.75 ? '' : format(datum.value, '.1f')"}},"y":{"field":"y","type":"quantitative","title":null,"scale":{"domain":[-7.75,162.75],"range":[49,0],"nice":false,"zero":false},"axis":{"values":[0,50,100,150],"format":"d"}}},"layer":[{"mark":{"type":"area","interpolate":"monotone"},"encoding":{"color":{"field":"area","type":"nominal","title":null}}},{"mark":{"type":"line","interpolate":"monotone","color":"#1a1a1a","strokeWidth":1.3}}]}
],
"config":{
"font":"Liberation Sans",
"view":{"stroke":null},
"range":{"category":["#F7A65C","#5ABDEB","#4DBB94","#EE6A5E"]},
"axis":{"gridColor":"#e6e6e6","gridWidth":1,"labelFont":"Liberation Sans","titleFont":"Liberation Sans","titleColor":"#000","titleFontWeight":"bold","titleFontSize":20},
"axisX":{"labels":false,"ticks":false,"domain":false,"domainColor":"#000","domainWidth":2.5,"tickColor":"#000","tickWidth":2.5,"tickSize":5,"labelFontSize":21,"labelColor":"#555","labelPadding":6,"labelFlush":false},
"axisY":{"domainColor":"#000","domainWidth":2.5,"tickColor":"#000","tickWidth":2.5,"tickSize":5,"labelFontSize":21,"labelColor":"#555","labelPadding":2,"labelOverlap":false,"labelFlush":false,"labelBaseline":"middle"},
"legend":{"orient":"none","legendX":315,"legendY":563,"direction":"horizontal","symbolType":"square","symbolSize":1089,"symbolStrokeColor":"#333","symbolStrokeWidth":1,"symbolOpacity":1,"labelFontSize":16,"labelColor":"#1a1a1a","labelFont":"Liberation Sans","labelOffset":15,"columnPadding":18}
}
}
